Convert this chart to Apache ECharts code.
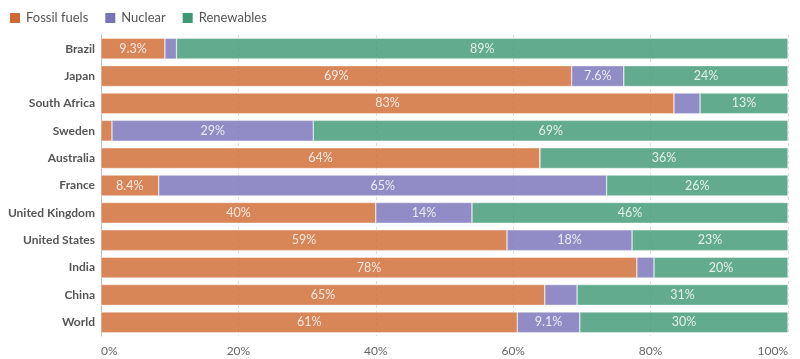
<!DOCTYPE html>
<html><head><meta charset="utf-8">
<script src="https://cdn.jsdelivr.net/npm/echarts@6/dist/echarts.min.js"></script>
<style>html,body{margin:0;padding:0;background:#fff}#c{width:800px;height:359px}</style>
</head><body><div id="c"></div>
<script>
const countries = ['Brazil','Japan','South Africa','Sweden','Australia','France','United Kingdom','United States','India','China','World'];
const fossil =     [9.3, 68.5, 83.4, 1.6, 63.9, 8.4, 40.0, 59.1, 78.0, 64.6, 60.6];
const nuclear =    [1.7, 7.6, 3.8, 29.3, 0, 65.2, 14.0, 18.2, 2.5, 4.7, 9.1];
const renewables = [89.0, 23.9, 12.8, 69.1, 36.1, 26.4, 46.0, 22.7, 19.5, 30.7, 30.3];
const xTicks = [0, 20, 40, 60, 80, 100];

const fmt = v => v < 10 ? v.toFixed(1) + '%' : Math.round(v) + '%';
const mk = (name, data, color) => ({
  name, type: 'bar', stack: 'total', data, barCategoryGap: '24%',
  itemStyle: { color, opacity: 0.82, borderColor: '#fff', borderWidth: 0.5 },
  label: { show: true, position: 'inside', color: '#fff', fontFamily: 'Lato', fontSize: 12.5,
    formatter: p => p.value >= 7 ? fmt(p.value) : '' },
  emphasis: { disabled: true }
});
const chart = echarts.init(document.getElementById('c'));
chart.setOption({
  animation: false,
  backgroundColor: '#fff',
  textStyle: { fontFamily: 'Lato' },
  legend: {
    left: 3, top: 6, itemWidth: 12, itemHeight: 12, itemGap: 15, icon: 'rect',
    textStyle: { fontFamily: 'Lato', fontSize: 13, color: '#555' },
    data: [
      { name: 'Fossil fuels', itemStyle: { color: '#cf6a32', opacity: 1 } },
      { name: 'Nuclear', itemStyle: { color: '#7973b8', opacity: 1 } },
      { name: 'Renewables', itemStyle: { color: '#3f9875', opacity: 1 } }
    ]
  },
  grid: { left: 101, right: 12, top: 35, bottom: 23, containLabel: false },
  xAxis: {
    type: 'value', min: xTicks[0], max: xTicks[xTicks.length - 1], interval: 20,
    axisLine: { show: false },
    axisTick: { show: false },
    splitLine: { show: true, lineStyle: { color: '#ddd', type: [3, 3], width: 1 } },
    axisLabel: { formatter: '{value}%', color: '#666', fontFamily: 'Lato', fontSize: 12, margin: 9,
      alignMinLabel: 'left', alignMaxLabel: 'right' }
  },
  yAxis: {
    type: 'category', data: countries, inverse: true,
    axisLine: { show: true, lineStyle: { color: '#bbb', width: 1 } },
    axisTick: { show: false },
    axisLabel: { color: '#555', fontFamily: 'Lato', fontSize: 12, fontWeight: 'bold', margin: 6 }
  },
  series: [
    mk('Fossil fuels', fossil, '#cf6a32'),
    mk('Nuclear', nuclear, '#7973b8'),
    mk('Renewables', renewables, '#3f9875')
  ]
});
</script></body></html>
